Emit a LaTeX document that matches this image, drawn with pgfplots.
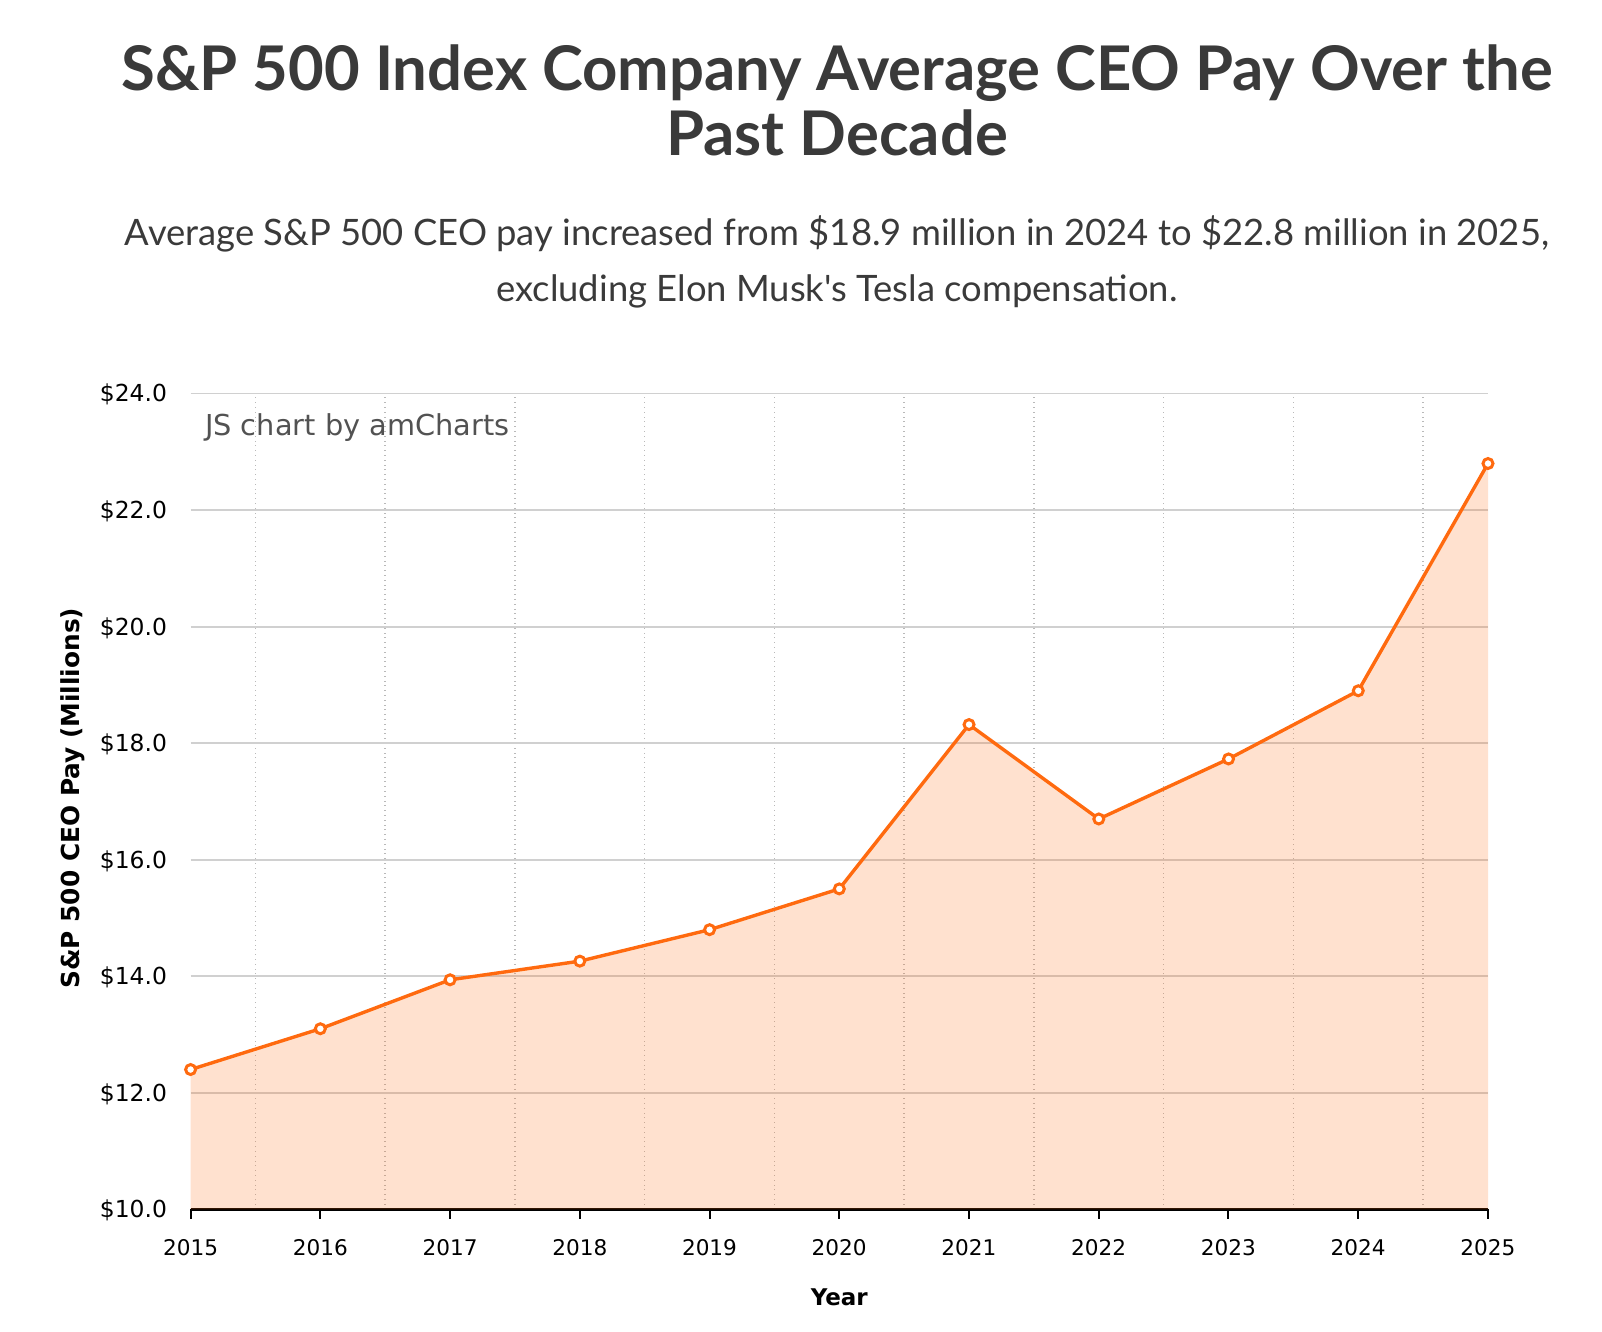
\documentclass[border=0pt]{standalone}
\usepackage{pgfplots}
\pgfplotsset{compat=1.18}
\usepackage{fontspec}
\setmainfont{DejaVu Sans}
\newfontfamily\titlefont{Lato}
\definecolor{lineor}{HTML}{FF6A0F}
\definecolor{titlegray}{HTML}{3A3A3A}
\definecolor{gridgray}{HTML}{D0D0D0}
\pgfplotstableread{
year pay
2015 12.4
2016 13.1
2017 13.94
2018 14.26
2019 14.8
2020 15.5
2021 18.32
2022 16.7
2023 17.73
2024 18.9
2025 22.8
}\paydata
\begin{document}
\begin{tikzpicture}
\path[use as bounding box] (0pt,0pt) rectangle (801pt,666pt);
\node[anchor=base,text=titlegray,font=\titlefont\bfseries\fontsize{30.8}{36}\selectfont] at (418.5pt,620.7pt) {S\&P 500 Index Company Average CEO Pay Over the};
\node[anchor=base,text=titlegray,font=\titlefont\bfseries\fontsize{30.8}{36}\selectfont] at (418.5pt,588pt) {Past Decade};
\node[anchor=base,text=titlegray,font=\titlefont\fontsize{18.2}{22}\selectfont] at (418.5pt,543pt) {Average S\&P 500 CEO pay increased from \$18.9 million in 2024 to \$22.8 million in 2025,};
\node[anchor=base,text=titlegray,font=\titlefont\fontsize{18.2}{22}\selectfont] at (418.5pt,515.2pt) {excluding Elon Musk's Tesla compensation.};
\begin{axis}[
  at={(95.3pt,61.3pt)}, anchor=south west, scale only axis,
  width=648.7pt, height=407.9pt,
  xmin=2015, xmax=2025, ymin=10, ymax=24,
  axis x line*=bottom, axis y line*=left,
  y axis line style={draw=none},
  x axis line style={black, line width=1.2pt, -},
  xtick={2015,...,2025},
  minor xtick={2015.5,2016.5,...,2024.5},
  ytick={10,12,...,24},
  ymajorgrids=true, xminorgrids=true,
  major grid style={gridgray, line width=0.9pt},
  minor grid style={gray!55, dotted, line width=0.7pt},
  minor tick length=0pt,
  y tick style={draw=none},
  x tick style={black, line width=1pt},
  tick align=outside,
  major tick length=4.7pt,
  /pgf/number format/assume math mode=true,
  xticklabel style={font=\fontsize{10.8}{12}\selectfont, /pgf/number format/1000 sep={}, yshift=-6.7pt},
  yticklabel style={font=\fontsize{11.7}{13}\selectfont, xshift=-3.6pt, yshift=-0.6pt},
  yticklabel={\$\pgfmathprintnumber[fixed,fixed zerofill,precision=1,assume math mode=true]{\tick}},
  xlabel={\bfseries Year},
  xlabel style={font=\fontsize{11.5}{14}\selectfont, at={(axis description cs:0.5,0)}, anchor=base, yshift=-48.3pt},
  ylabel={\bfseries S\&P 500 CEO Pay (Millions)},
  ylabel style={font=\fontsize{12.4}{14}\selectfont, at={(axis description cs:-0.0906,0.504)}, anchor=center},
  clip=false,
]
\addplot[draw=none, fill=lineor, fill opacity=0.2] table[x=year,y=pay]{\paydata} \closedcycle;
\addplot[lineor, line width=1.7pt, mark=*, mark size=2.5pt, mark options={fill=white, draw=lineor, line width=1.5pt}] table[x=year,y=pay]{\paydata};
\end{axis}
\node[anchor=base west, text=black!68, font=\fontsize{14.4}{17}\selectfont] at (99pt,448pt) {JS chart by amCharts};
\end{tikzpicture}
\end{document}
